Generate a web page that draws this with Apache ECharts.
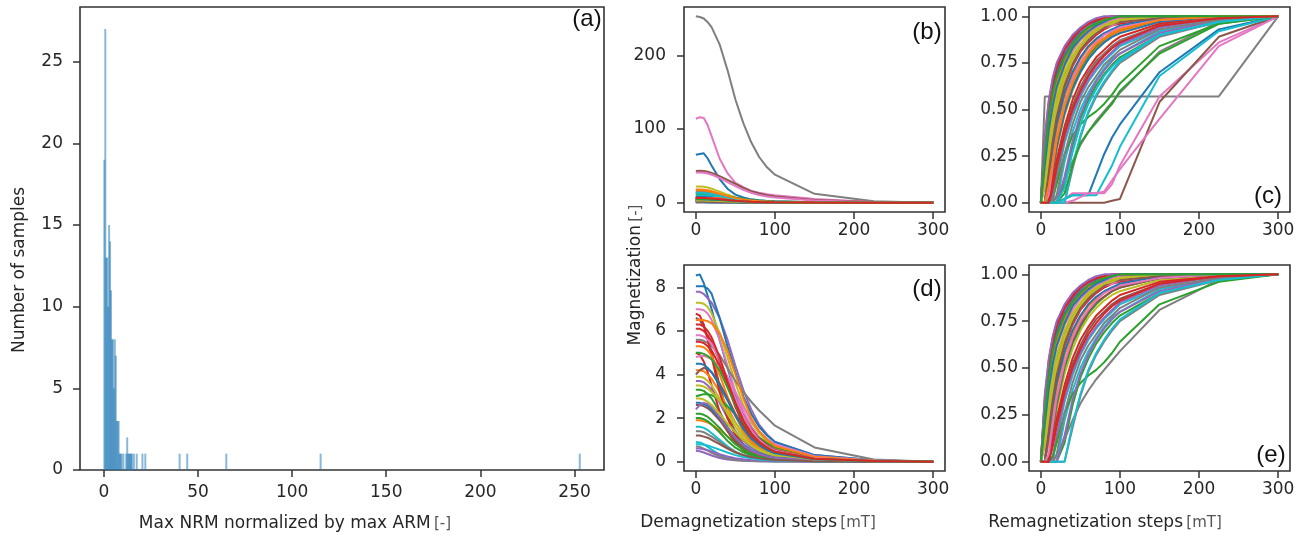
<!DOCTYPE html>
<html>
<head>
<meta charset="utf-8">
<script src="https://cdn.jsdelivr.net/npm/echarts@6/dist/echarts.min.js"></script>
<style>
  html, body { margin: 0; padding: 0; background: #fff; }
  #chart { width: 1305px; height: 537px; }
</style>
</head>
<body>
<div id="chart"></div>
<script>
// Histogram of max NRM normalized by max ARM (bin index, count)
const HIST_BIN_WIDTH = 253 / 500;
const HIST_BINS   = [0, 1, 2, 3, 4, 5, 6, 7, 8, 9, 10, 11, 12, 13, 14, 15, 16, 17, 18, 20, 23, 24, 25, 26, 27, 28, 29, 31, 34, 40, 43, 79, 87, 128, 227, 499];
const HIST_COUNTS = [19, 27, 13, 13, 10, 15, 14, 11, 8, 8, 5, 8, 7, 3, 3, 3, 1, 1, 1, 1, 1, 2, 1, 1, 1, 1, 1, 1, 1, 1, 1, 1, 1, 1, 1, 1];

// Field steps [mT] shared by demagnetization and remagnetization curves
const STEPS = [0, 5, 10, 15, 20, 30, 40, 50, 60, 70, 80, 90, 100, 150, 225, 300];

// Demagnetization curves, one row per sample
const DEMAG = [
  [8.55, 8.6, 8.2, 7.6, 7.0, 5.6, 4.3, 3.1, 2.2, 1.6, 1.1, 0.8, 0.6, 0.2, 0.04, 0],
  [1.9, 1.9, 1.85, 1.8, 1.7, 1.45, 1.15, 0.85, 0.6, 0.42, 0.3, 0.22, 0.16, 0.05, 0.01, 0],
  [3.3, 3.3, 3.25, 3.1, 2.9, 2.3, 1.6, 1.05, 0.7, 0.45, 0.3, 0.2, 0.14, 0.04, 0.01, 0],
  [5.0, 4.9, 4.6, 4.1, 3.5, 2.3, 1.4, 0.85, 0.52, 0.33, 0.22, 0.15, 0.11, 0.03, 0.01, 0],
  [7.8, 7.8, 7.7, 7.5, 7.3, 6.6, 5.6, 4.4, 3.3, 2.4, 1.7, 1.25, 0.9, 0.3, 0.06, 0],
  [2.6, 2.6, 2.55, 2.45, 2.3, 1.9, 1.4, 0.95, 0.62, 0.4, 0.27, 0.19, 0.13, 0.04, 0.01, 0],
  [7.0, 7.0, 6.95, 6.8, 6.5, 5.6, 4.4, 3.2, 2.3, 1.6, 1.1, 0.8, 0.57, 0.17, 0.03, 0],
  [253, 252, 250, 245, 238, 215, 180, 140, 108, 82, 62, 48, 38, 12, 2, 0],
  [7.3, 7.3, 7.25, 7.1, 6.8, 5.9, 4.8, 3.6, 2.6, 1.8, 1.3, 0.9, 0.65, 0.2, 0.04, 0],
  [0.9, 0.88, 0.8, 0.68, 0.55, 0.32, 0.18, 0.1, 0.06, 0.04, 0.03, 0.02, 0.015, 0.005, 0, 0],
  [8.05, 8.05, 8.05, 7.95, 7.7, 6.6, 5.3, 4.1, 3.0, 2.2, 1.6, 1.2, 0.9, 0.3, 0.06, 0],
  [18, 18, 17.6, 16.8, 15.6, 12.5, 9.2, 6.4, 4.4, 3.0, 2.1, 1.5, 1.1, 0.3, 0.06, 0],
  [2.2, 2.2, 2.15, 2.05, 1.9, 1.55, 1.15, 0.8, 0.55, 0.37, 0.26, 0.18, 0.13, 0.04, 0.01, 0],
  [12.5, 12.5, 12.3, 11.8, 11.0, 9.0, 6.8, 4.8, 3.3, 2.3, 1.6, 1.15, 0.85, 0.25, 0.05, 0],
  [3.7, 3.7, 3.65, 3.5, 3.3, 2.7, 2.0, 1.4, 0.95, 0.65, 0.45, 0.32, 0.23, 0.07, 0.01, 0],
  [6.6, 6.5, 6.2, 5.7, 5.0, 3.5, 2.2, 1.3, 0.8, 0.5, 0.33, 0.23, 0.17, 0.05, 0.01, 0],
  [114, 116, 115, 105, 90, 60, 40, 27, 21, 16, 13.5, 11.5, 10, 5, 1, 0],
  [5.6, 5.6, 5.55, 5.45, 5.3, 4.9, 4.3, 3.7, 3.2, 2.75, 2.35, 2.0, 1.65, 0.65, 0.1, 0],
  [22, 22, 21.5, 20.5, 19, 15, 11, 7.5, 5.0, 3.4, 2.3, 1.6, 1.2, 0.35, 0.07, 0],
  [1.6, 1.6, 1.55, 1.45, 1.3, 1.0, 0.7, 0.45, 0.3, 0.2, 0.14, 0.1, 0.07, 0.02, 0, 0],
  [65, 66, 67, 60, 50, 32, 19, 11, 7, 4.5, 3.2, 2.4, 1.8, 0.5, 0.1, 0],
  [4.2, 4.2, 4.15, 4.0, 3.8, 3.2, 2.5, 1.8, 1.25, 0.85, 0.6, 0.42, 0.3, 0.09, 0.02, 0],
  [3.0, 3.05, 3.1, 3.1, 3.05, 2.85, 2.55, 2.15, 1.75, 1.4, 1.1, 0.85, 0.66, 0.22, 0.04, 0],
  [6.8, 6.7, 6.3, 5.6, 4.8, 3.2, 2.0, 1.2, 0.75, 0.5, 0.34, 0.24, 0.17, 0.05, 0.01, 0],
  [0.5, 0.48, 0.42, 0.35, 0.28, 0.17, 0.1, 0.06, 0.04, 0.03, 0.02, 0.015, 0.01, 0.003, 0, 0],
  [43, 43.5, 43, 42, 40.5, 36, 31, 25.5, 20, 15.5, 12.5, 10, 8.5, 3.5, 0.8, 0],
  [4.8, 4.85, 4.85, 4.8, 4.7, 4.4, 3.9, 3.2, 2.5, 1.9, 1.4, 1.05, 0.8, 0.25, 0.05, 0],
  [0.7, 0.68, 0.6, 0.5, 0.4, 0.24, 0.14, 0.08, 0.05, 0.03, 0.02, 0.015, 0.01, 0.003, 0, 0],
  [3.5, 3.5, 3.45, 3.35, 3.2, 2.8, 2.3, 1.8, 1.3, 0.95, 0.68, 0.5, 0.36, 0.11, 0.02, 0],
  [10.5, 10.5, 10.4, 10.1, 9.6, 8.3, 6.6, 5.0, 3.7, 2.7, 2.0, 1.5, 1.1, 0.35, 0.07, 0],
  [14, 14, 13.7, 13.2, 12.4, 10.2, 7.8, 5.7, 4.0, 2.8, 2.0, 1.4, 1.0, 0.3, 0.06, 0],
  [5.3, 5.3, 5.25, 5.1, 4.85, 4.0, 3.0, 2.1, 1.4, 0.95, 0.65, 0.45, 0.32, 0.09, 0.02, 0],
  [2.0, 2.0, 1.95, 1.85, 1.7, 1.35, 0.95, 0.64, 0.43, 0.29, 0.2, 0.14, 0.1, 0.03, 0.01, 0],
  [5.5, 5.5, 5.45, 5.3, 5.1, 4.4, 3.6, 2.8, 2.1, 1.5, 1.05, 0.75, 0.54, 0.16, 0.03, 0],
  [0.6, 0.6, 0.57, 0.52, 0.46, 0.34, 0.24, 0.16, 0.11, 0.08, 0.06, 0.045, 0.035, 0.01, 0, 0],
  [4.0, 4.2, 4.3, 4.25, 4.1, 3.6, 2.9, 2.2, 1.6, 1.15, 0.8, 0.58, 0.42, 0.13, 0.02, 0],
  [41, 41, 40.5, 39.5, 38, 33.5, 28, 22.5, 17.5, 13.5, 10.5, 8.5, 7, 2.8, 0.6, 0],
  [1.4, 1.4, 1.35, 1.25, 1.15, 0.9, 0.65, 0.45, 0.3, 0.2, 0.14, 0.1, 0.07, 0.02, 0, 0],
  [3.9, 3.9, 3.85, 3.7, 3.5, 2.9, 2.2, 1.6, 1.1, 0.75, 0.52, 0.37, 0.26, 0.08, 0.01, 0],
  [0.8, 0.8, 0.78, 0.74, 0.68, 0.55, 0.42, 0.3, 0.21, 0.15, 0.1, 0.07, 0.05, 0.015, 0, 0],
  [2.7, 2.7, 2.65, 2.55, 2.4, 2.0, 1.55, 1.1, 0.78, 0.54, 0.38, 0.27, 0.19, 0.06, 0.01, 0],
  [6.5, 6.5, 6.5, 6.45, 6.35, 5.9, 5.1, 4.0, 2.9, 2.0, 1.4, 1.0, 0.72, 0.22, 0.04, 0],
  [12.5, 12.5, 12.4, 12.1, 11.6, 10.2, 8.4, 6.6, 5.0, 3.8, 2.9, 2.2, 1.7, 0.55, 0.1, 0],
  [6.1, 6.1, 6.0, 5.8, 5.5, 4.6, 3.5, 2.5, 1.7, 1.15, 0.8, 0.55, 0.4, 0.12, 0.02, 0],
  [2.4, 2.6, 2.7, 2.65, 2.5, 2.05, 1.55, 1.1, 0.75, 0.5, 0.35, 0.25, 0.18, 0.05, 0.01, 0],
  [1.2, 1.2, 1.15, 1.1, 1.0, 0.8, 0.6, 0.42, 0.3, 0.21, 0.15, 0.11, 0.08, 0.02, 0, 0],
  [5.8, 5.8, 5.75, 5.6, 5.4, 4.7, 3.8, 2.9, 2.1, 1.45, 1.0, 0.7, 0.5, 0.15, 0.03, 0],
  [15, 15, 14.7, 14.1, 13.2, 10.8, 8.2, 5.9, 4.2, 2.9, 2.1, 1.5, 1.1, 0.32, 0.06, 0],
  [2.9, 2.9, 2.85, 2.75, 2.6, 2.2, 1.75, 1.35, 1.0, 0.75, 0.56, 0.42, 0.32, 0.1, 0.02, 0],
  [13.5, 13.5, 13.2, 12.6, 11.8, 9.5, 7.1, 5.0, 3.5, 2.4, 1.7, 1.2, 0.9, 0.26, 0.05, 0],
  [4.5, 4.5, 4.45, 4.3, 4.1, 3.5, 2.8, 2.1, 1.5, 1.05, 0.75, 0.53, 0.38, 0.11, 0.02, 0],
  [17, 17, 16.7, 16.0, 14.9, 12.0, 8.9, 6.2, 4.3, 2.9, 2.0, 1.45, 1.05, 0.3, 0.06, 0],
  [5.0, 5.0, 4.95, 4.85, 4.7, 4.2, 3.4, 2.6, 1.85, 1.3, 0.9, 0.65, 0.45, 0.13, 0.03, 0],
  [6.3, 6.3, 6.2, 6.0, 5.7, 4.8, 3.7, 2.7, 1.9, 1.3, 0.9, 0.63, 0.45, 0.13, 0.03, 0]
];

// Normalized remagnetization curves, same sample order
const REMAG = [
  [0, 0.22, 0.42, 0.55, 0.64, 0.76, 0.84, 0.89, 0.93, 0.96, 0.98, 0.99, 1, 1, 1, 1],
  [0, 0, 0.1, 0.24, 0.36, 0.53, 0.65, 0.74, 0.8, 0.85, 0.88, 0.91, 0.93, 0.98, 1, 1],
  [0, 0.12, 0.3, 0.44, 0.54, 0.68, 0.77, 0.84, 0.89, 0.92, 0.95, 0.96, 0.97, 0.99, 1, 1],
  [0, 0, 0.15, 0.32, 0.45, 0.62, 0.73, 0.81, 0.86, 0.9, 0.93, 0.95, 0.96, 0.99, 1, 1],
  [0, 0.3, 0.5, 0.62, 0.7, 0.8, 0.87, 0.92, 0.95, 0.97, 0.99, 1, 1, 1, 1, 1],
  [0, 0, 0, 0.1, 0.2, 0.38, 0.52, 0.62, 0.7, 0.76, 0.8, 0.84, 0.87, 0.95, 0.99, 1],
  [0, 0.18, 0.38, 0.52, 0.61, 0.73, 0.81, 0.87, 0.91, 0.94, 0.96, 0.98, 0.99, 1, 1, 1],
  [0, 0.57, 0.57, 0.57, 0.57, 0.57, 0.57, 0.57, 0.57, 0.57, 0.57, 0.57, 0.57, 0.57, 0.57, 1],
  [0, 0, 0, 0.15, 0.28, 0.47, 0.6, 0.7, 0.77, 0.82, 0.86, 0.89, 0.91, 0.97, 0.99, 1],
  [0, 0, 0, 0, 0.12, 0.32, 0.46, 0.57, 0.65, 0.71, 0.76, 0.8, 0.84, 0.93, 0.98, 1],
  [0, 0.26, 0.47, 0.6, 0.69, 0.79, 0.86, 0.91, 0.94, 0.97, 0.98, 0.99, 1, 1, 1, 1],
  [0, 0, 0.08, 0.2, 0.32, 0.5, 0.62, 0.71, 0.78, 0.83, 0.87, 0.9, 0.92, 0.98, 1, 1],
  [0, 0, 0, 0, 0, 0.1, 0.3, 0.45, 0.55, 0.63, 0.69, 0.74, 0.78, 0.9, 0.97, 1],
  [0, 0, 0, 0.06, 0.16, 0.35, 0.49, 0.6, 0.68, 0.74, 0.79, 0.83, 0.86, 0.95, 0.99, 1],
  [0, 0.1, 0.27, 0.41, 0.52, 0.66, 0.76, 0.83, 0.88, 0.92, 0.94, 0.96, 0.97, 0.99, 1, 1],
  [0, 0, 0.18, 0.35, 0.48, 0.64, 0.75, 0.82, 0.87, 0.91, 0.94, 0.96, 0.97, 0.99, 1, 1],
  [0, 0, 0, 0, 0, 0.02, 0.05, 0.05, 0.05, 0.05, 0.05, 0.1, 0.2, 0.57, 0.86, 1],
  [0, 0, 0, 0, 0.03, 0.12, 0.22, 0.31, 0.38, 0.44, 0.49, 0.54, 0.59, 0.81, 0.97, 1],
  [0, 0.15, 0.35, 0.5, 0.6, 0.73, 0.82, 0.88, 0.92, 0.95, 0.97, 0.99, 1, 1, 1, 1],
  [0, 0, 0, 0, 0, 0.22, 0.38, 0.5, 0.59, 0.66, 0.72, 0.77, 0.8, 0.92, 0.98, 1],
  [0, 0, 0, 0, 0, 0.02, 0.04, 0.04, 0.04, 0.15, 0.26, 0.35, 0.42, 0.7, 0.93, 1],
  [0, 0, 0.12, 0.27, 0.4, 0.57, 0.68, 0.77, 0.83, 0.87, 0.9, 0.93, 0.94, 0.98, 1, 1],
  [0, 0, 0.02, 0.16, 0.3, 0.5, 0.63, 0.72, 0.79, 0.84, 0.88, 0.91, 0.93, 0.98, 1, 1],
  [0, 0.32, 0.52, 0.64, 0.72, 0.82, 0.88, 0.93, 0.96, 0.98, 0.99, 1, 1, 1, 1, 1],
  [0, 0, 0, 0.02, 0.14, 0.34, 0.48, 0.58, 0.66, 0.72, 0.77, 0.81, 0.85, 0.94, 0.99, 1],
  [0, 0, 0, 0, 0, 0, 0, 0, 0, 0, 0, 0.01, 0.02, 0.54, 0.89, 1],
  [0, 0.08, 0.24, 0.38, 0.49, 0.64, 0.74, 0.82, 0.87, 0.91, 0.94, 0.95, 0.97, 0.99, 1, 1],
  [0, 0, 0, 0, 0, 0, 0.18, 0.35, 0.48, 0.57, 0.64, 0.7, 0.75, 0.89, 0.97, 1],
  [0, 0, 0.2, 0.37, 0.5, 0.66, 0.76, 0.83, 0.88, 0.92, 0.95, 0.97, 0.98, 1, 1, 1],
  [0, 0, 0, 0, 0, 0.02, 0.04, 0.04, 0.04, 0.04, 0.12, 0.2, 0.3, 0.68, 0.92, 1],
  [0, 0, 0.06, 0.18, 0.3, 0.48, 0.61, 0.7, 0.77, 0.82, 0.86, 0.89, 0.91, 0.97, 1, 1],
  [0, 0.2, 0.41, 0.54, 0.63, 0.75, 0.83, 0.89, 0.93, 0.96, 0.98, 0.99, 1, 1, 1, 1],
  [0, 0, 0, 0.03, 0.1, 0.26, 0.36, 0.42, 0.46, 0.49, 0.53, 0.58, 0.64, 0.84, 0.96, 1],
  [0, 0.34, 0.54, 0.66, 0.74, 0.83, 0.89, 0.93, 0.96, 0.98, 0.99, 1, 1, 1, 1, 1],
  [0, 0, 0, 0, 0, 0.14, 0.33, 0.47, 0.57, 0.65, 0.71, 0.76, 0.8, 0.91, 0.98, 1],
  [0, 0, 0, 0.18, 0.32, 0.52, 0.64, 0.73, 0.8, 0.85, 0.88, 0.91, 0.93, 0.98, 1, 1],
  [0, 0, 0, 0, 0, 0, 0.01, 0.03, 0.05, 0.05, 0.06, 0.12, 0.18, 0.45, 0.84, 1],
  [0, 0, 0, 0, 0.04, 0.26, 0.42, 0.54, 0.62, 0.68, 0.74, 0.78, 0.82, 0.93, 0.98, 1],
  [0, 0.14, 0.33, 0.47, 0.57, 0.7, 0.79, 0.85, 0.9, 0.93, 0.95, 0.97, 0.98, 1, 1, 1],
  [0, 0, 0, 0, 0, 0, 0.2, 0.36, 0.49, 0.58, 0.65, 0.71, 0.76, 0.9, 0.97, 1],
  [0, 0, 0.14, 0.3, 0.42, 0.59, 0.7, 0.78, 0.84, 0.88, 0.91, 0.93, 0.95, 0.99, 1, 1],
  [0, 0.24, 0.44, 0.57, 0.66, 0.77, 0.85, 0.9, 0.94, 0.96, 0.98, 0.99, 1, 1, 1, 1],
  [0, 0, 0, 0, 0, 0.05, 0.2, 0.32, 0.38, 0.43, 0.48, 0.53, 0.6, 0.8, 0.96, 1],
  [0, 0, 0, 0.12, 0.23, 0.41, 0.55, 0.65, 0.72, 0.78, 0.82, 0.86, 0.89, 0.96, 0.99, 1],
  [0, 0.36, 0.55, 0.67, 0.75, 0.84, 0.9, 0.94, 0.97, 0.99, 1, 1, 1, 1, 1, 1],
  [0, 0, 0.16, 0.33, 0.46, 0.63, 0.74, 0.82, 0.87, 0.91, 0.94, 0.96, 0.97, 0.99, 1, 1],
  [0, 0, 0.04, 0.2, 0.34, 0.53, 0.66, 0.75, 0.81, 0.86, 0.9, 0.92, 0.94, 0.98, 1, 1],
  [0, 0, 0, 0.03, 0.15, 0.36, 0.5, 0.61, 0.69, 0.75, 0.8, 0.84, 0.87, 0.95, 0.99, 1],
  [0, 0.1, 0.28, 0.42, 0.53, 0.67, 0.77, 0.84, 0.89, 0.92, 0.95, 0.96, 0.98, 1, 1, 1],
  [0, 0, 0, 0, 0, 0.08, 0.27, 0.42, 0.53, 0.61, 0.68, 0.73, 0.77, 0.9, 0.97, 1],
  [0, 0.2, 0.39, 0.52, 0.62, 0.74, 0.83, 0.88, 0.92, 0.95, 0.97, 0.99, 1, 1, 1, 1],
  [0, 0, 0.09, 0.22, 0.34, 0.52, 0.64, 0.73, 0.8, 0.85, 0.88, 0.91, 0.93, 0.98, 1, 1],
  [0, 0.25, 0.46, 0.59, 0.67, 0.78, 0.85, 0.9, 0.94, 0.96, 0.98, 0.99, 1, 1, 1, 1],
  [0, 0, 0, 0.08, 0.19, 0.37, 0.5, 0.6, 0.68, 0.74, 0.79, 0.83, 0.86, 0.95, 0.99, 1]
];

// Samples below this max NRM/ARM ratio form the detailed lower panels
const SUBSET_LIMIT = 10;

// Tick values
const HIST_X_TICKS = [0, 50, 100, 150, 200, 250];
const HIST_Y_TICKS = [0, 5, 10, 15, 20, 25];
const STEP_TICKS = [0, 100, 200, 300];
const DEMAG_ALL_TICKS = [0, 100, 200];
const DEMAG_SUB_TICKS = [0, 2, 4, 6, 8];
const REMAG_TICKS = [0, 0.25, 0.5, 0.75, 1];

const PALETTE = ['#1f77b4', '#ff7f0e', '#2ca02c', '#d62728', '#9467bd',
                 '#8c564b', '#e377c2', '#7f7f7f', '#bcbd22', '#17becf'];
const TICK_FONT = 'DejaVu Sans';
const INK = '#262626';

const chart = echarts.init(document.getElementById('chart'), null, { renderer: 'canvas' });

function padRange(lo, hi) {
  const m = (hi - lo) * 0.05;
  return [lo - m, hi + m];
}

const subset = DEMAG.map((row, i) => i).filter(i => Math.max(...DEMAG[i]) < SUBSET_LIMIT);
const demagMaxAll = Math.max(...DEMAG.map(r => Math.max(...r)));
const demagMaxSub = Math.max(...subset.map(i => Math.max(...DEMAG[i])));
const histXMax = (HIST_BINS[HIST_BINS.length - 1] + 1) * HIST_BIN_WIDTH;
const histYMax = Math.max(...HIST_COUNTS);

const grids = [
  { left: 80,   top: 7,   width: 524, height: 463 },  // (a)
  { left: 684,  top: 7,   width: 261, height: 205 },  // (b)
  { left: 1029, top: 7,   width: 261, height: 205 },  // (c)
  { left: 684,  top: 265, width: 261, height: 206 },  // (d)
  { left: 1029, top: 265, width: 261, height: 206 }   // (e)
].map(g => Object.assign({
  show: true, borderColor: '#333', borderWidth: 1.6, backgroundColor: 'transparent',
  containLabel: false, outerBoundsMode: 'none'
}, g));

function axis(gridIndex, range, ticks, labelMargin, formatter) {
  return {
    type: 'value', gridIndex, min: range[0], max: range[1],
    axisLine: { show: false, onZero: false },
    splitLine: { show: false },
    axisTick: { show: true, inside: false, length: 7, customValues: ticks,
                lineStyle: { color: '#333', width: 1.5 } },
    axisLabel: { show: true, customValues: ticks, margin: labelMargin,
                 fontFamily: TICK_FONT, fontSize: 17, color: INK,
                 formatter: formatter || (v => String(v)) }
  };
}

const stepRange = padRange(0, 300);
const remagRange = padRange(0, 1);
const fmt2 = v => v.toFixed(2);

const xAxes = [
  axis(0, padRange(0, histXMax), HIST_X_TICKS, 14),
  axis(1, stepRange, STEP_TICKS, 10),
  axis(2, stepRange, STEP_TICKS, 10),
  axis(3, stepRange, STEP_TICKS, 10),
  axis(4, stepRange, STEP_TICKS, 10)
];
const yAxes = [
  axis(0, [0, histYMax * 1.05], HIST_Y_TICKS, 17),
  axis(1, padRange(0, demagMaxAll), DEMAG_ALL_TICKS, 18),
  axis(2, remagRange, REMAG_TICKS, 11, fmt2),
  axis(3, padRange(0, demagMaxSub), DEMAG_SUB_TICKS, 18),
  axis(4, remagRange, REMAG_TICKS, 11, fmt2)
];

const series = [];

// (a) histogram bars; neighbouring bars overlap slightly so dense runs read darker
series.push({
  type: 'custom', xAxisIndex: 0, yAxisIndex: 0, silent: true,
  data: HIST_BINS.map((b, k) => [b * HIST_BIN_WIDTH, HIST_COUNTS[k]]),
  renderItem: function (params, api) {
    const x0 = api.value(0), c = api.value(1);
    const p0 = api.coord([x0, c]);
    const p1 = api.coord([x0 + HIST_BIN_WIDTH, 0]);
    const w = p1[0] - p0[0];
    return {
      type: 'rect',
      shape: { x: p0[0] - 0.5 * w, y: p0[1], width: 2.1 * w, height: p1[1] - p0[1] },
      style: { fill: '#1f77b4', opacity: 0.52 }
    };
  }
});

function curveSeries(rows, idx, axisIndex) {
  idx.forEach(i => {
    series.push({
      type: 'line', xAxisIndex: axisIndex, yAxisIndex: axisIndex,
      data: STEPS.map((x, k) => [x, rows[i][k]]),
      showSymbol: false, symbol: 'none', silent: true, clip: true,
      lineStyle: { width: 2, color: PALETTE[i % PALETTE.length] },
      emphasis: { disabled: true }
    });
  });
}

const all = DEMAG.map((r, i) => i);
curveSeries(DEMAG, all, 1);     // (b)
curveSeries(REMAG, all, 2);     // (c)
curveSeries(DEMAG, subset, 3);  // (d)
curveSeries(REMAG, subset, 4);  // (e)

function label(text, x, y) {
  return { type: 'text', x, y, silent: true, z: 100,
           style: { text, fill: '#111', font: '24px "Liberation Sans"',
                    align: 'center', verticalAlign: 'middle',
                    textAlign: 'center', textVerticalAlign: 'middle' } };
}

function title(main, unit, x, y, rotation) {
  return { type: 'text', x, y, rotation: rotation || 0, silent: true, z: 100,
           style: {
             text: '{m|' + main + '} {u|' + unit + '}',
             align: 'center', verticalAlign: 'middle',
             textAlign: 'center', textVerticalAlign: 'middle',
             rich: {
               m: { fontFamily: TICK_FONT, fontSize: 17, fill: INK },
               u: { fontFamily: TICK_FONT, fontSize: 15, fill: '#555' }
             }
           } };
}

const graphic = [
  label('(a)', 587, 19),
  label('(b)', 927, 32),
  label('(c)', 1268, 196),
  label('(d)', 927, 289),
  label('(e)', 1271, 455),
  title('Max NRM normalized by max ARM', '[-]', 295, 524),
  title('Demagnetization steps', '[mT]', 758, 523),
  title('Remagnetization steps', '[mT]', 1105, 523),
  { type: 'text', x: 20, y: 270, rotation: Math.PI / 2, silent: true,
    style: { text: 'Number of samples', fill: INK, font: '17px "DejaVu Sans"',
             align: 'center', verticalAlign: 'middle',
             textAlign: 'center', textVerticalAlign: 'middle' } },
  title('Magnetization', '[-]', 636, 275, Math.PI / 2)
];

chart.setOption({
  animation: false,
  backgroundColor: '#fff',
  grid: grids,
  xAxis: xAxes,
  yAxis: yAxes,
  series,
  graphic
});
</script>
</body>
</html>
